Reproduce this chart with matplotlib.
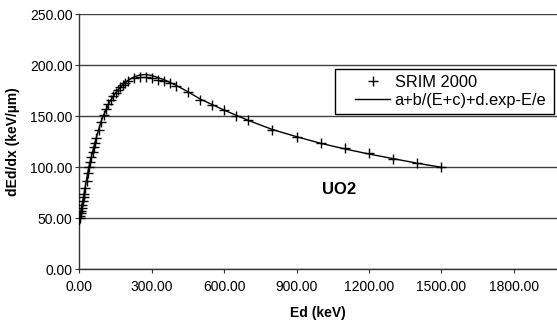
import matplotlib
matplotlib.use('Agg')
import matplotlib.pyplot as plt
from matplotlib.lines import Line2D
from matplotlib.legend_handler import HandlerLine2D

plt.rcParams['font.family'] = ['Liberation Sans', 'DejaVu Sans']

# SRIM 2000 points (Ed in keV, dEd/dx in keV/um)
E_srim = [2, 4, 6, 8, 10, 12, 15, 18, 20, 25, 30, 35, 40, 45, 50, 55, 60, 65, 70,
          80, 90, 100, 110, 120, 130, 140, 150, 160, 170, 180, 190, 200, 225, 250,
          275, 300, 325, 350, 375, 400, 450, 500, 550, 600, 650, 700, 800, 900,
          1000, 1100, 1200, 1300, 1400, 1500]
v_srim = [50, 52, 55, 57, 60, 63, 67, 71, 74, 80, 87, 94, 100, 105, 110, 115, 120,
          124, 129, 137, 144, 151, 157, 162, 166, 170, 173, 176, 179, 181, 183, 185,
          188, 189, 189, 188, 186, 185, 183, 180, 173.5, 166, 161.5, 156, 150, 146,
          136.6, 129.4, 123.5, 118.6, 113.7, 108, 104.5, 100.5]

# fitted curve a+b/(E+c)+d.exp-E/e
E_fit = [0, 5, 10, 20, 30, 40, 50, 60, 70, 80, 90, 100, 125, 150, 175, 200, 225,
         250, 275, 300, 350, 400, 450, 500, 600, 700, 800, 900, 1000, 1100, 1200,
         1300, 1400, 1500]
v_fit = [44, 55, 62, 75, 89, 101, 111, 120, 129, 137, 145, 151, 164, 173, 180, 185,
         188.5, 190.5, 191, 190, 186, 180.5, 174, 167, 156, 146, 137, 130, 123.5,
         118, 113, 108.5, 104, 100]

xticks = [0, 300, 600, 900, 1200, 1500, 1800]
yticks = [0, 50, 100, 150, 200, 250]

W, H = 557, 322
fig = plt.figure(figsize=(W / 100, H / 100), dpi=100)
ax = fig.add_axes([79.4 / W, 1 - 269.3 / H, 1 - 79.4 / W, (269.3 - 14.3) / H])

ax.plot(E_fit, v_fit, color='black', lw=1.0, label='a+b/(E+c)+d.exp-E/e', zorder=3)
ax.plot(E_srim, v_srim, ls='none', marker='+', ms=7, mew=1.0, color='black',
        label='SRIM 2000', zorder=4)

ax.set_xlim(0, 1979)
ax.set_ylim(0, 250)
ax.set_xticks(xticks)
ax.set_yticks(yticks)
ax.set_xticklabels([f'{t:.2f}' for t in xticks])
ax.set_yticklabels([f'{t:.2f}' for t in yticks])
ax.tick_params(labelsize=10, length=3, width=0.8, color='#333333')
ax.tick_params(axis='y', pad=2)
ax.tick_params(axis='x', pad=5)

ax.grid(axis='y', color='#404040', lw=1.0)
ax.set_axisbelow(True)
for s in ['top', 'right']:
    ax.spines[s].set_visible(False)
for s in ['left', 'bottom']:
    ax.spines[s].set_color('#333333')
    ax.spines[s].set_linewidth(1.0)

ax.set_xlabel('Ed (keV)', fontsize=10, fontweight='bold', labelpad=8)
ax.set_ylabel('dEd/dx (keV/µm)', fontsize=10, fontweight='bold', labelpad=7)

ax.text(1004, 78.7, 'UO2', fontsize=12, fontweight='bold', va='center', ha='left')

handles = [Line2D([], [], ls='none', marker='+', ms=7, mew=1.0, color='black'),
           Line2D([], [], color='black', lw=1.0)]
labels = ['SRIM 2000', 'a+b/(E+c)+d.exp-E/e']
hm = {h: HandlerLine2D(xpad=0.85) for h in handles}
leg = fig.legend(handles, labels, handler_map=hm, numpoints=1,
                 bbox_to_anchor=(335 / W, 1 - 113 / H, (554 - 335) / W, (113 - 69) / H),
                 loc='upper left', mode='expand', fontsize=11.8, frameon=True,
                 fancybox=False, edgecolor='black', framealpha=1, borderpad=0.38,
                 borderaxespad=0, labelspacing=0.15, handlelength=3.0,
                 handletextpad=0.26)
leg.get_frame().set_linewidth(1.0)

fig.savefig('out.png', dpi=100)
